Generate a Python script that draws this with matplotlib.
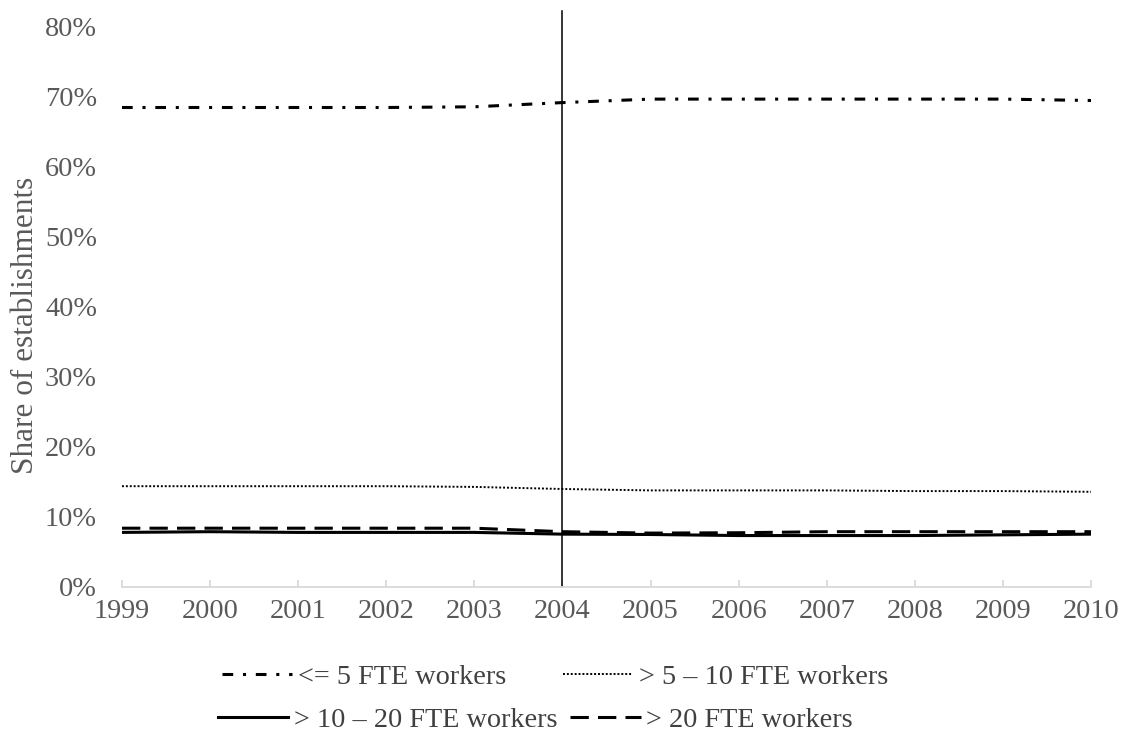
import matplotlib
matplotlib.use("Agg")
import matplotlib.pyplot as plt
from matplotlib.ticker import PercentFormatter

years = [1999, 2000, 2001, 2002, 2003, 2004, 2005, 2006, 2007, 2008, 2009, 2010]
le5 = [0.685, 0.685, 0.685, 0.685, 0.686, 0.692, 0.697, 0.697, 0.697, 0.697, 0.697, 0.695]
gt5_10 = [0.144, 0.144, 0.144, 0.144, 0.143, 0.140, 0.138, 0.138, 0.138, 0.137, 0.137, 0.136]
gt10_20 = [0.078, 0.079, 0.078, 0.078, 0.078, 0.0755, 0.075, 0.0735, 0.0735, 0.0735, 0.0745, 0.0755]
gt20 = [0.084, 0.084, 0.084, 0.084, 0.084, 0.079, 0.077, 0.0775, 0.079, 0.079, 0.079, 0.079]
labels = ["<= 5 FTE workers", "> 5 \u2013 10 FTE workers",
          "> 10 \u2013 20 FTE workers", "> 20 FTE workers"]
yticks = [0, 0.1, 0.2, 0.3, 0.4, 0.5, 0.6, 0.7, 0.8]
event_year = 2004
event_top = 0.823

plt.rcParams['font.family'] = ['Liberation Serif', 'DejaVu Serif']
fs = 20.3

fig = plt.figure(figsize=(11.28, 7.35), dpi=100)
ax = fig.add_axes([122/1128, 1-587/735, (1091-122)/1128, 560/735])

l1, = ax.plot(years, le5, color='black', lw=2.2, linestyle=(0, (3.5, 3.2, 1, 3.2)))
l2, = ax.plot(years, gt5_10, color='black', lw=1.4, linestyle=(0, (1, 1)))
l3, = ax.plot(years, gt10_20, color='black', lw=2.2, linestyle='-')
l4, = ax.plot(years, gt20, color='black', lw=2.2, linestyle=(0, (6, 3)))

ax.plot([event_year, event_year], [0, event_top], color='black', lw=1.1, clip_on=False)

ax.set_xlim(years[0], years[-1])
ax.set_ylim(0, 0.8)
ax.set_xticks(years)
ax.set_yticks(yticks)
ax.yaxis.set_major_formatter(PercentFormatter(1.0, decimals=0))

for s in ['top', 'right', 'left']:
    ax.spines[s].set_visible(False)
ax.spines['bottom'].set_color('#d9d9d9')
ax.spines['bottom'].set_linewidth(1.3)
ax.tick_params(axis='x', direction='in', length=5, width=1.3, color='#d9d9d9',
               labelsize=fs, labelcolor='#595959', pad=9)
ax.tick_params(axis='y', length=0, labelsize=fs, labelcolor='#595959', pad=18)

ax.set_ylabel("Share of establishments", fontsize=22.5, color='#595959')
ax.yaxis.set_label_coords(-0.0846, 0.468)

common = dict(frameon=False, fontsize=fs, handlelength=2.5, handletextpad=0.2,
              labelcolor='#404040', borderpad=0, borderaxespad=0)
leg1 = fig.legend([l1, l2], labels[:2], ncol=2, columnspacing=2.0,
                  loc='center left', bbox_to_anchor=(222/1128, 1-677/735), **common)
leg2 = fig.legend([l3, l4], labels[2:], ncol=2, columnspacing=0.45,
                  loc='center left', bbox_to_anchor=(218/1128, 1-720/735), **common)

fig.savefig("out.png", dpi=100)
